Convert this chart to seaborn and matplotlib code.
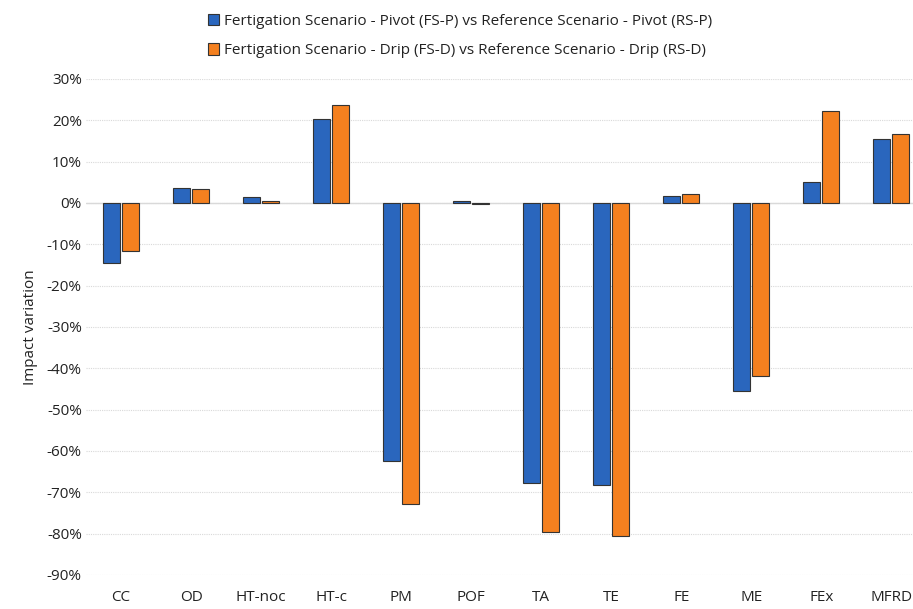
import pandas as pd
import matplotlib
matplotlib.use("Agg")
import matplotlib.pyplot as plt
import matplotlib.font_manager as fm
from matplotlib.patches import Patch
from matplotlib.ticker import PercentFormatter
import seaborn as sns

# 데이터 (그림에서 읽은 값, %)
categories = ["CC", "OD", "HT-noc", "HT-c", "PM", "POF", "TA", "TE", "FE", "ME", "FEx", "MFRD"]
pivot_vals = [-14.4, 3.7, 1.5, 20.3, -62.5, 0.6, -67.7, -68.2, 1.6, -45.5, 5.1, 15.4]
drip_vals = [-11.6, 3.5, 0.5, 23.7, -72.9, -0.2, -79.6, -80.6, 2.1, -41.8, 22.3, 16.8]
series_names = [
    "Fertigation Scenario - Pivot (FS-P) vs Reference Scenario - Pivot (RS-P)",
    "Fertigation Scenario - Drip (FS-D) vs Reference Scenario - Drip (RS-D)",
]
colors = ["#2A66BD", "#F4801F"]

df = pd.DataFrame({
    "cat": categories * 2,
    "val": pivot_vals + drip_vals,
    "series": [series_names[0]] * len(categories) + [series_names[1]] * len(categories),
})

sns.set_style("white")
names = {f.name for f in fm.fontManager.ttflist}
base = "Liberation Sans Narrow" if "Liberation Sans Narrow" in names else "Open Sans"
plt.rcParams["font.family"] = [base, "DejaVu Sans"]
plt.rcParams["font.size"] = 11
plt.rcParams["axes.unicode_minus"] = False

fig = plt.figure(figsize=(9.13, 6.09), dpi=100)
ax = fig.add_axes([86 / 913, 34 / 609, 827 / 913, 496 / 609])

sns.barplot(data=df, x="cat", y="val", hue="series", palette=colors, saturation=1,
            width=0.55, gap=0.12, edgecolor="#333333", linewidth=0.8,
            legend=False, ax=ax, zorder=3)

ax.set_ylim(-90, 30)
ax.set_yticks(range(-90, 31, 10))
ax.yaxis.set_major_formatter(PercentFormatter(decimals=0))
ax.set_xlim(-0.5, 11.31)
ax.grid(axis="y", color="#D9D9D9", linestyle=(0, (1, 1)), linewidth=0.8, zorder=0)
ax.axhline(0, color="#D9D9D9", linewidth=1.0, zorder=1)
for s in ax.spines.values():
    s.set_visible(False)
ax.tick_params(axis="x", length=0, pad=11, labelsize=11, labelcolor="#222222")
ax.tick_params(axis="y", length=0, pad=3, labelsize=11, labelcolor="#222222")
ax.set_xlabel("")
ax.set_ylabel("Impact variation", fontsize=11, color="#222222", labelpad=6)

handles = [Patch(facecolor=c, edgecolor="#333333", linewidth=0.8) for c in colors]
fig.legend(handles, series_names, loc="upper center", bbox_to_anchor=(460 / 913, 1.0),
           frameon=False, ncol=1, handlelength=0.75, handleheight=0.75,
           handletextpad=0.3, labelspacing=0.95, fontsize=11, labelcolor="#222222")

fig.savefig("out.png", dpi=100)
